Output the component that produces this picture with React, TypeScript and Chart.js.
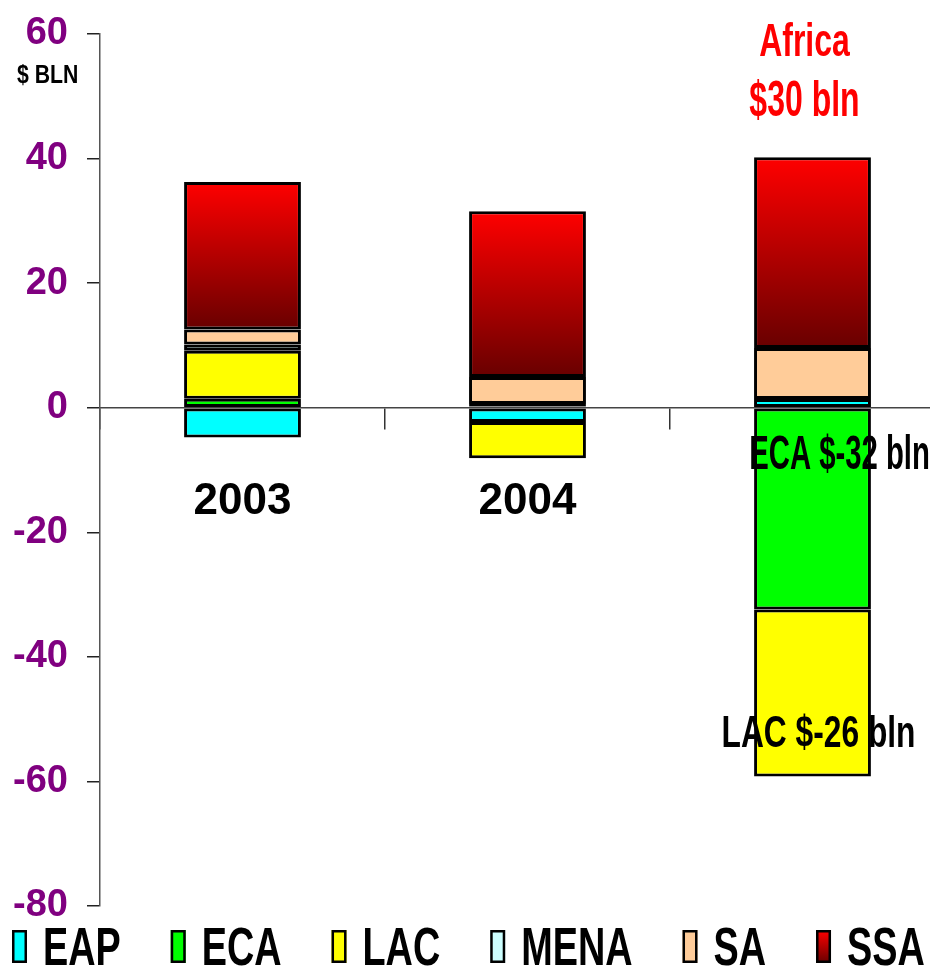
import React, { useEffect, useRef } from "react";
import { Chart, registerables } from "chart.js";

Chart.register(...registerables);

// ---- data ----
const categories = ["2003", "2004", "2005"];
const seriesNames = ["EAP", "ECA", "LAC", "MENA", "SA", "SSA"];
const eapValues = [-4.8, -2.3, 1.4];
const ecaValues = [1.45, 0.2, -32.4];
const lacValues = [7.7, -5.8, -26.8];
const menaValues = [1.0, 0.4, 0];
const saValues = [2.4, 4.35, 8.2];
const ssaValues = [23.7, 26.6, 30.6];
const yMin = -80;
const yMax = 60;
const yStep = 20;
const unitLabel = "$ BLN";
const africaNote = ["Africa", "$30 bln"];
const ecaNote = "ECA $-32 bln";
const lacNote = "LAC $-26 bln";

const seriesValues = [eapValues, ecaValues, lacValues, menaValues, saValues, ssaValues];
const seriesColors = ["#00ffff", "#00ff00", "#ffff00", "#ccffff", "#ffcc99", "#e00000"];

const FONT = "'Liberation Sans', Arial, sans-serif";

function ssaGradient(context: any) {
  const chart = context.chart;
  if (!chart.chartArea || context.type !== "data") return "#c00000";
  const i = context.dataIndex;
  let base = 0;
  for (let s = 0; s < 5; s++) {
    const v = seriesValues[s][i];
    if (v > 0) base += v;
  }
  const top = base + ssaValues[i];
  const y = chart.scales.y;
  const g = chart.ctx.createLinearGradient(0, y.getPixelForValue(top), 0, y.getPixelForValue(base));
  g.addColorStop(0, "#ff0000");
  g.addColorStop(1, "#680000");
  return g;
}

function drawNarrow(
  ctx: CanvasRenderingContext2D,
  text: string,
  x: number,
  y: number,
  size: number,
  sx: number,
  color: string,
  align: CanvasTextAlign
) {
  ctx.save();
  ctx.translate(x, y);
  ctx.scale(sx, 1);
  ctx.font = `bold ${size}px ${FONT}`;
  ctx.fillStyle = color;
  ctx.textAlign = align;
  ctx.textBaseline = "alphabetic";
  ctx.fillText(text, 0, 0);
  ctx.restore();
}

const notesPlugin = {
  id: "notes",
  afterDraw(chart: any) {
    const ctx = chart.ctx as CanvasRenderingContext2D;
    const xs = chart.scales.x;
    const ys = chart.scales.y;
    const x2005 = xs.getPixelForValue(2);
    drawNarrow(ctx, unitLabel, 17, 83, 25, 0.85, "#000", "left");
    drawNarrow(ctx, africaNote[0], x2005 - 8, ys.getPixelForValue(56.4), 47, 0.68, "#ff0000", "center");
    drawNarrow(ctx, africaNote[1], x2005 - 8, ys.getPixelForValue(46.8), 50, 0.64, "#ff0000", "center");
    drawNarrow(ctx, ecaNote, x2005 + 27, ys.getPixelForValue(-9.85), 48, 0.61, "#000", "center");
    drawNarrow(ctx, lacNote, x2005 + 6, ys.getPixelForValue(-54.5), 45, 0.705, "#000", "center");

    // legend
    const boxW = 15;
    const boxH = 33;
    const size = 54;
    const sx = 0.7;
    const boxTop = 930;
    const baseline = 965;
    let x = 12;
    chart.data.datasets.forEach((ds: any, idx: number) => {
      let fill: any = seriesColors[idx];
      if (idx === 5) {
        const g = ctx.createLinearGradient(0, boxTop, 0, boxTop + boxH);
        g.addColorStop(0, "#ff0000");
        g.addColorStop(1, "#680000");
        fill = g;
      }
      ctx.save();
      ctx.fillStyle = fill;
      ctx.fillRect(x, boxTop, boxW, boxH);
      ctx.lineWidth = 2.5;
      ctx.strokeStyle = "#000";
      ctx.strokeRect(x + 1.25, boxTop + 1.25, boxW - 2.5, boxH - 2.5);
      ctx.restore();
      const tx = x + boxW + 16;
      drawNarrow(ctx, ds.label, tx, baseline, size, sx, "#000", "left");
      ctx.save();
      ctx.font = `bold ${size}px ${FONT}`;
      const w = ctx.measureText(ds.label).width * sx;
      ctx.restore();
      x = tx + w + 50;
    });
  },
};

export default function App() {
  const ref = useRef<HTMLCanvasElement | null>(null);
  useEffect(() => {
    if (!ref.current) return;
    const datasets = seriesNames.map((name, i) => ({
      label: name,
      data: seriesValues[i],
      backgroundColor: i === 5 ? ssaGradient : seriesColors[i],
      borderColor: "#000",
      borderWidth: 3,
      borderSkipped: false as any,
      inflateAmount: 0,
      barPercentage: 0.41,
      categoryPercentage: 1,
      stack: "s",
    }));
    const chart = new Chart(ref.current, {
      type: "bar",
      data: { labels: categories, datasets },
      options: {
        responsive: false,
        animation: false,
        devicePixelRatio: 1,
        layout: { padding: { top: 34, bottom: 62, left: 0, right: 0 } },
        plugins: { legend: { display: false }, tooltip: { enabled: false } },
        scales: {
          x: {
            type: "category",
            stacked: true,
            position: { y: 0 } as any,
            offset: true,
            grid: {
              display: true,
              drawOnChartArea: false,
              drawTicks: true,
              tickLength: 21,
              offset: true,
              color: "#333",
              lineWidth: 1.5,
            },
            border: { display: true, color: "#444", width: 1.5 },
            ticks: {
              color: "#000",
              padding: 47,
              font: { family: FONT, size: 44, weight: "bold" },
              maxRotation: 0,
            },
          },
          y: {
            stacked: true,
            min: yMin,
            max: yMax,
            afterFit: (s: any) => {
              s.width = 100;
              s.paddingTop = 0;
              s.paddingBottom = 0;
            },
            grid: {
              display: true,
              drawOnChartArea: false,
              drawTicks: true,
              tickLength: 13,
              color: "#222",
              lineWidth: 1.5,
            },
            border: { display: true, color: "#555", width: 1.5 },
            ticks: {
              stepSize: yStep,
              color: "#800080",
              padding: 19,
              font: { family: FONT, size: 38, weight: "bold" },
            },
          },
        },
      },
      plugins: [notesPlugin],
    });
    return () => chart.destroy();
  }, []);

  return (
    <div
      style={{
        position: "fixed",
        left: 0,
        top: 0,
        width: 930,
        height: 968,
        overflow: "hidden",
        background: "#fff",
      }}
    >
      <canvas ref={ref} width={955} height={968} style={{ width: 955, height: 968, display: "block" }} />
    </div>
  );
}
